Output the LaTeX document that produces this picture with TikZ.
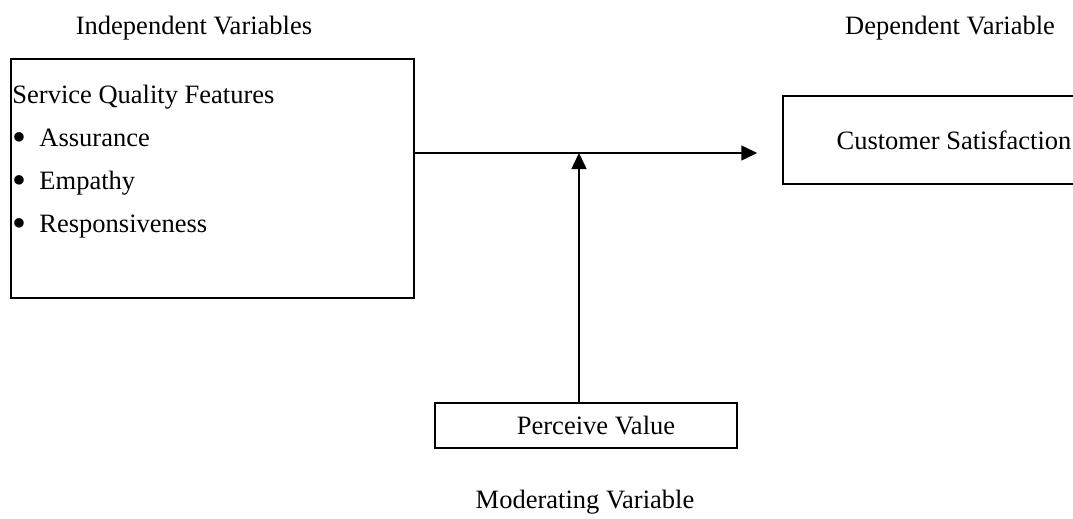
\documentclass[tikz,border=0pt]{standalone}
\usepackage{fontspec}
\setmainfont{Liberation Serif}
\usetikzlibrary{arrows.meta}

\newcommand{\bigbullet}{\makebox[27pt][l]{\raisebox{-0.12em}{\scalebox{1.5}{\textbullet}}}}

\begin{document}
\begin{tikzpicture}[x=1pt,y=-1pt,font=\fontsize{26.5}{43}\selectfont]
\tikzstyle{box} = [rectangle, draw=black, line width=1.5pt, inner sep=0pt]
\tikzstyle{edge} = [draw=black, line width=1.5pt, -{Triangle[length=16pt,width=15pt]}]
\tikzstyle{caption} = [inner sep=0pt, anchor=base]

\useasboundingbox (0,0) rectangle (1073,519);
\clip (0,0) rectangle (1073,519);

% headings
\node[caption] (ivh) at (194,35) {Independent Variables};
\node[caption] (dvh) at (950,35) {Dependent Variable};
\node[caption] (mvh) at (585,508) {Moderating Variable};

% boxes
\node[box, minimum width=403, minimum height=239] (iv) at (212.5,178.5) {};
\node[inner sep=0pt, anchor=north west, align=left] (sqf) at ([xshift=2,yshift=-27]iv.north west)
  {Service Quality Features\\
   \bigbullet Assurance\\
   \bigbullet Empathy\\
   \bigbullet Responsiveness};
\node[box, minimum width=342, minimum height=88] (cs) at (954,140) {Customer Satisfaction};
\node[box, minimum width=302, minimum height=45] (pv) at (586,425.5) {\hspace*{20pt}Perceive Value};

\coordinate (j) at (579,153);

\draw[edge] (iv.east |- j) -- ([xshift=-25]cs.west |- j);
\draw[edge] (pv.north -| j) -- (j);
\end{tikzpicture}
\end{document}
